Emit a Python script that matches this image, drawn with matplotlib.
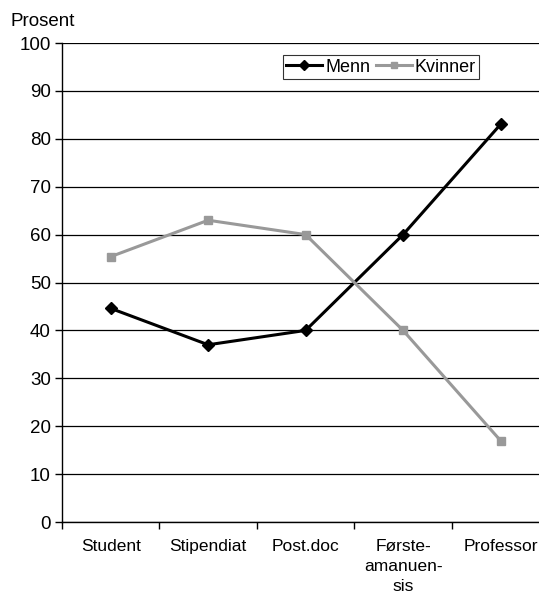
import numpy as np
import matplotlib.pyplot as plt

plt.rcParams['font.family'] = ['Liberation Sans', 'DejaVu Sans']

# Data
categories = ['Student', 'Stipendiat', 'Post.doc', 'Første-\namanuen-\nsis', 'Professor']
menn = [44.6, 37.0, 40.0, 60.0, 83.0]
kvinner = [55.4, 63.0, 60.0, 40.0, 17.0]

fig = plt.figure(figsize=(5.39, 5.94), dpi=100)
ax = fig.add_axes([0.115, 0.1212, 0.904, 0.8064])

x = np.arange(len(categories))
ax.plot(x, menn, color='black', lw=2.2, marker='D', ms=6, label='Menn', zorder=3)
ax.plot(x, kvinner, color='#999999', lw=2.2, marker='s', ms=6, label='Kvinner', zorder=3)

ax.set_ylim(0, 100)
ax.set_yticks(np.arange(0, 101, 10))
ax.set_xlim(-0.5, len(categories) - 0.5)
ax.set_xticks(x)
ax.set_xticklabels(categories, fontsize=12.5, linespacing=1.45)
ax.set_xticks(np.arange(-0.5, len(categories), 1), minor=True)
ax.tick_params(axis='x', which='major', length=0, pad=12)
ax.tick_params(axis='x', which='minor', length=5, width=1, direction='out')
ax.tick_params(axis='y', labelsize=13.5, length=5, width=1, direction='out', pad=3)

ax.grid(axis='y', color='black', lw=0.9)
ax.set_axisbelow(True)
for s in ['top', 'right']:
    ax.spines[s].set_visible(False)
ax.spines['left'].set_linewidth(1)
ax.spines['bottom'].set_linewidth(1)

fig.text(0.02, 0.95, 'Prosent', fontsize=13.5, ha='left', va='bottom')

leg = ax.legend(loc='upper left', bbox_to_anchor=(0.453, 0.975), ncol=2, frameon=True,
                fancybox=False, edgecolor='black', fontsize=13, handlelength=2.0,
                handletextpad=0.15, columnspacing=0.3, borderpad=0.2, borderaxespad=0,
                markerscale=0.8)
leg.get_frame().set_linewidth(0.8)

fig.savefig('out.png', dpi=100)
